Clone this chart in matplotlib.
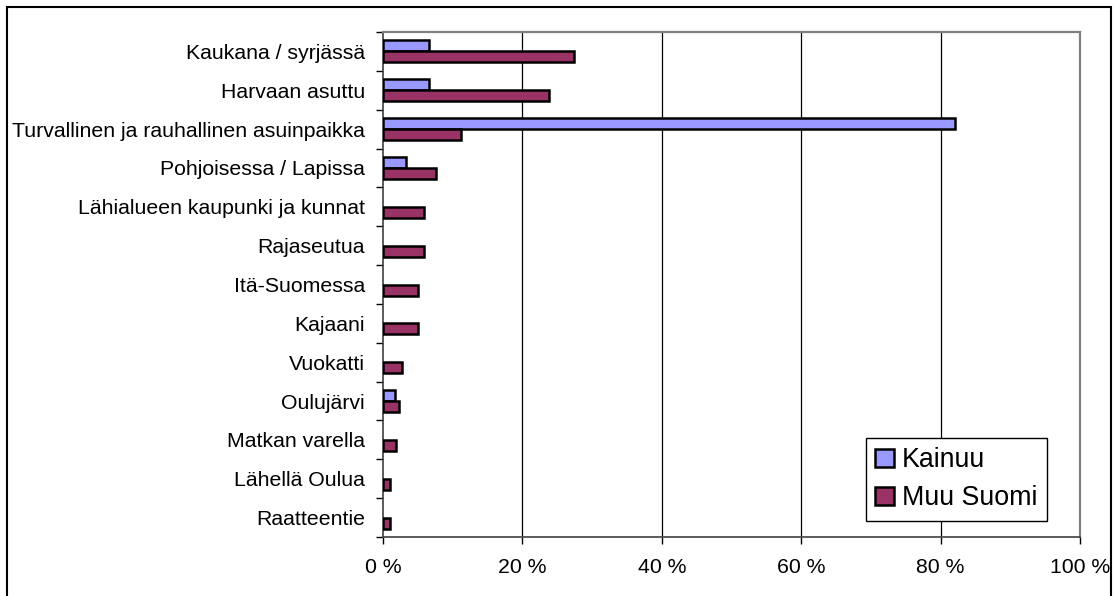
import numpy as np
import matplotlib
matplotlib.use('Agg')
import matplotlib.pyplot as plt
from matplotlib.patches import Rectangle
from matplotlib.ticker import FuncFormatter, FixedLocator

categories = ['Kaukana / syrjässä', 'Harvaan asuttu', 'Turvallinen ja rauhallinen asuinpaikka',
              'Pohjoisessa / Lapissa', 'Lähialueen kaupunki ja kunnat', 'Rajaseutua',
              'Itä-Suomessa', 'Kajaani', 'Vuokatti', 'Oulujärvi', 'Matkan varella',
              'Lähellä Oulua', 'Raatteentie']
kainuu = [6.6, 6.6, 82.1, 3.3, 0, 0, 0, 0, 0, 1.7, 0, 0, 0]
muu_suomi = [27.4, 23.8, 11.2, 7.6, 5.9, 5.9, 5.0, 5.0, 2.7, 2.3, 1.8, 1.0, 1.0]
series_names = ['Kainuu', 'Muu Suomi']
x_ticks = [0, 20, 40, 60, 80, 100]

plt.rcParams['font.family'] = ['Liberation Sans', 'DejaVu Sans']

fig = plt.figure(figsize=(11.14, 5.96), dpi=100)
ax = fig.add_axes([0.3438, 0.0990, 0.6257, 0.8473])

y = np.arange(len(categories))
h = 0.285
# no outline for empty bars
lw_k = [1.8 if v > 0 else 0 for v in kainuu]
lw_m = [1.8 if v > 0 else 0 for v in muu_suomi]
ax.barh(y - h / 2, kainuu, height=h, color='#9999FF', edgecolor='black', linewidth=lw_k,
        label=series_names[0], zorder=3)
ax.barh(y + h / 2, muu_suomi, height=h, color='#993366', edgecolor='black', linewidth=lw_m,
        label=series_names[1], zorder=3)

ax.set_xlim(0, 100)
ax.set_ylim(len(categories) - 0.5, -0.5)
ax.set_xticks(x_ticks)
ax.xaxis.set_major_formatter(FuncFormatter(lambda v, p: '%d %%' % v))
ax.set_yticks(y)
ax.set_yticklabels(categories)
ax.yaxis.set_minor_locator(FixedLocator(np.arange(len(categories) + 1) - 0.5))
ax.tick_params(axis='y', which='major', length=0, pad=13, labelsize=15.3)
ax.tick_params(axis='y', which='minor', length=5, width=1, direction='out')
ax.tick_params(axis='x', length=5, width=1, direction='out', pad=10, labelsize=15.3)

for v in x_ticks[1:-1]:
    ax.axvline(v, color='black', linewidth=0.9, zorder=1)

for s in ['top', 'right']:
    ax.spines[s].set_color('#808080')
    ax.spines[s].set_linewidth(1.6)
for s in ['left', 'bottom']:
    ax.spines[s].set_color('#404040')
    ax.spines[s].set_linewidth(1.2)

leg = ax.legend(loc='lower left', bbox_to_anchor=(0.693, 0.032), fontsize=19.3,
                fancybox=False, framealpha=1, edgecolor='black', borderpad=0.35,
                handlelength=0.7, handleheight=0.7, handletextpad=0.3,
                labelspacing=0.45, borderaxespad=0)
leg.get_frame().set_linewidth(1.0)
leg.set_zorder(5)

fig.patches.append(Rectangle((6.5 / 1114, -0.05), (1111 - 6.5) / 1114, 1 - 7 / 596 + 0.05,
                             transform=fig.transFigure, fill=False, edgecolor='black',
                             linewidth=1.5, clip_on=False))

fig.savefig('out.png', dpi=100)
